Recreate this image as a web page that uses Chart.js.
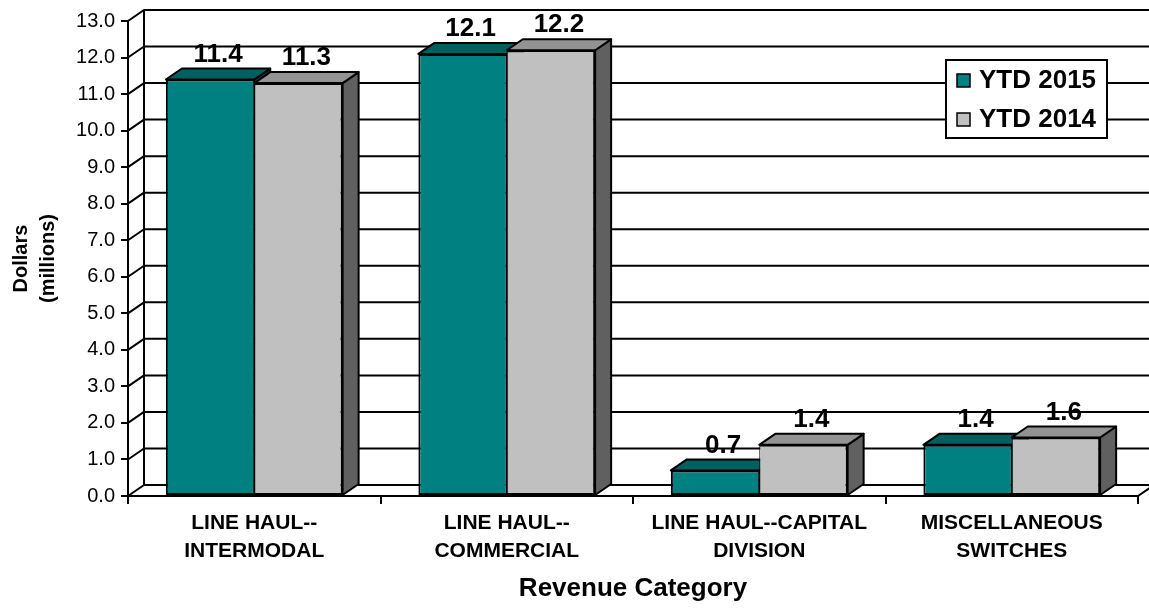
<!DOCTYPE html>
<html>
<head>
<meta charset="utf-8">
<script src="https://cdn.jsdelivr.net/npm/chart.js@4.4.1/dist/chart.umd.min.js"></script>
<style>
  html, body { margin: 0; padding: 0; background: #fff; }
  #wrap { width: 1149px; height: 608px; }
</style>
</head>
<body>
<div id="wrap"><canvas id="revChart" width="1149" height="608"></canvas></div>
<script>
// chart data
const categories = [
    ['LINE HAUL--', 'INTERMODAL'],
    ['LINE HAUL--', 'COMMERCIAL'],
    ['LINE HAUL--CAPITAL', 'DIVISION'],
    ['MISCELLANEOUS', 'SWITCHES']
];
const seriesNames = ['YTD 2015', 'YTD 2014'];
const ytd2015 = [11.4, 12.1, 0.7, 1.4];
const ytd2014 = [11.3, 12.2, 1.4, 1.6];
const yMin = 0;
const yMax = 13;
const yStep = 1;

const FONT = 'Arial, "Liberation Sans", sans-serif';

// front / top / side colours for each series
const faceColours = [
    { front: '#008080', top: '#005f5f', side: '#004040' }, // teal
    { front: '#c0c0c0', top: '#939393', side: '#606060' }  // grey
];

// depth of the fake 3d box
const DX = 16;
const DY = -11;

// walls, floor, and the top/side faces of the bars
const box3d = {
    id: 'box3d',
    beforeDatasetsDraw(chart) {
        const { ctx, chartArea: a, scales: { x, y } } = chart;
        ctx.save();
        ctx.strokeStyle = '#000';
        ctx.lineWidth = 2;
        ctx.lineJoin = 'round';

        // back wall gridlines + left wall diagonals
        for (let v = yMin; v <= yMax; v += yStep) {
            const py = y.getPixelForValue(v);
            ctx.beginPath();
            ctx.moveTo(a.left, py);
            ctx.lineTo(a.left + DX, py + DY);
            ctx.lineTo(a.right + DX, py + DY);
            ctx.stroke();
        }
        // back wall left edge
        ctx.beginPath();
        ctx.moveTo(a.left + DX, y.getPixelForValue(yMin) + DY);
        ctx.lineTo(a.left + DX, y.getPixelForValue(yMax) + DY);
        ctx.stroke();
        // floor right edge
        ctx.beginPath();
        ctx.moveTo(a.right, y.getPixelForValue(yMin));
        ctx.lineTo(a.right + DX, y.getPixelForValue(yMin) + DY);
        ctx.stroke();

        // side + top faces, left to right so the next bar covers the previous one
        categories.forEach((c, i) => {
            chart.data.datasets.forEach((ds, d) => {
                const bar = chart.getDatasetMeta(d).data[i];
                const left = bar.x - bar.width / 2;
                const right = bar.x + bar.width / 2;
                const top = bar.y;
                const base = bar.base;
                const col = faceColours[d];

                ctx.fillStyle = col.side;
                ctx.beginPath();
                ctx.moveTo(right, top);
                ctx.lineTo(right + DX, top + DY);
                ctx.lineTo(right + DX, base + DY);
                ctx.lineTo(right, base);
                ctx.closePath();
                ctx.fill();
                ctx.stroke();

                ctx.fillStyle = col.top;
                ctx.beginPath();
                ctx.moveTo(left, top);
                ctx.lineTo(left + DX, top + DY);
                ctx.lineTo(right + DX, top + DY);
                ctx.lineTo(right, top);
                ctx.closePath();
                ctx.fill();
                ctx.stroke();
            });
        });
        ctx.restore();
    },
    afterDatasetsDraw(chart) {
        // value labels above each bar
        const { ctx } = chart;
        ctx.save();
        ctx.fillStyle = '#000';
        ctx.font = 'bold 26px ' + FONT;
        ctx.textAlign = 'center';
        ctx.textBaseline = 'middle';
        chart.data.datasets.forEach((ds, d) => {
            chart.getDatasetMeta(d).data.forEach((bar, i) => {
                ctx.fillText(ds.data[i].toFixed(1), bar.x + DX / 2, bar.y + DY - 14);
            });
        });
        ctx.restore();
    },
    afterDraw(chart) {
        // boxed legend in the top right corner
        const { ctx } = chart;
        const bx = 946, by = 60, bw = 161, bh = 78;
        ctx.save();
        ctx.fillStyle = '#fff';
        ctx.fillRect(bx, by, bw, bh);
        ctx.strokeStyle = '#000';
        ctx.lineWidth = 2;
        ctx.strokeRect(bx, by, bw, bh);
        ctx.font = 'bold 26px ' + FONT;
        ctx.textBaseline = 'middle';
        ctx.textAlign = 'left';
        chart.data.datasets.forEach((ds, d) => {
            const cy = by + 20 + d * 39;
            ctx.fillStyle = ds.backgroundColor;
            ctx.fillRect(bx + 11, cy - 6, 13, 13);
            ctx.lineWidth = 1.5;
            ctx.strokeRect(bx + 11, cy - 6, 13, 13);
            ctx.fillStyle = '#000';
            ctx.fillText(ds.label, bx + 33, cy + 1);
        });
        ctx.restore();
    }
};

const ctx = document.getElementById('revChart').getContext('2d');
new Chart(ctx, {
    type: 'bar',
    data: {
        labels: categories,
        datasets: [
            {
                label: seriesNames[0],
                data: ytd2015,
                backgroundColor: faceColours[0].front,
                borderColor: '#000',
                borderWidth: { top: 2, left: 2, bottom: 2, right: 1 },
                borderSkipped: false
            },
            {
                label: seriesNames[1],
                data: ytd2014,
                backgroundColor: faceColours[1].front,
                borderColor: '#000',
                borderWidth: { top: 2, left: 1, bottom: 2, right: 2 },
                borderSkipped: false
            }
        ]
    },
    plugins: [box3d],
    options: {
        responsive: false,
        animation: false,
        categoryPercentage: 0.70,
        barPercentage: 1.0,
        layout: {
            padding: { top: 21, right: 11, left: 0, bottom: 0 }
        },
        scales: {
            x: {
                afterFit(scale) { scale.height = 112; },
                grid: {
                    drawOnChartArea: false,
                    color: '#000',
                    lineWidth: 2,
                    tickLength: 8,
                    offset: true
                },
                border: { display: true, color: '#000', width: 2 },
                ticks: {
                    color: '#000',
                    padding: 6,
                    maxRotation: 0,
                    autoSkip: false,
                    font: { family: FONT, size: 21, weight: 'bold', lineHeight: 1.3 }
                },
                title: {
                    display: true,
                    text: 'Revenue Category',
                    color: '#000',
                    padding: { top: 0, bottom: 4 },
                    font: { family: FONT, size: 26, weight: 'bold' }
                }
            },
            y: {
                min: yMin,
                max: yMax,
                afterFit(scale) { scale.width = 128; },
                grid: {
                    drawOnChartArea: false,
                    color: '#000',
                    lineWidth: 2,
                    tickLength: 7
                },
                border: { display: true, color: '#000', width: 2 },
                ticks: {
                    stepSize: yStep,
                    color: '#000',
                    padding: 6,
                    font: { family: FONT, size: 20 },
                    callback: value => value.toFixed(1)
                },
                title: {
                    display: true,
                    text: ['Dollars', '(millions)'],
                    color: '#000',
                    padding: { top: 8, bottom: 0 },
                    font: { family: FONT, size: 20, weight: 'bold', lineHeight: 1.35 }
                }
            }
        },
        plugins: {
            legend: { display: false },
            tooltip: { enabled: false }
        }
    }
});
</script>
</body>
</html>
